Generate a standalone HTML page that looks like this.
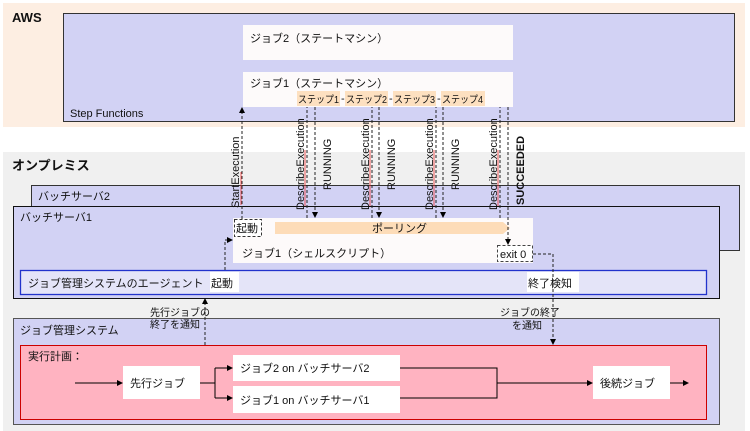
<!DOCTYPE html>
<html><head><meta charset="utf-8"><style>
body{margin:0;background:#fff}
svg{display:block}
text{font-family:"Liberation Sans","Noto Sans CJK JP",sans-serif;font-size:11px;fill:#111}
</style></head><body>
<svg width="750" height="431" viewBox="0 0 750 431" xmlns="http://www.w3.org/2000/svg">
<defs>
<marker id="a" markerWidth="6" markerHeight="6" refX="5" refY="3" orient="auto" markerUnits="userSpaceOnUse"><path d="M0,0 L6,3 L0,6 z" fill="#000"/></marker>
</defs>
<!-- AWS -->
<rect x="3" y="3" width="742" height="124" fill="#fdeee2"/>
<text x="12" y="22" style="font-weight:bold;font-size:13px">AWS</text>
<rect x="63.5" y="13.5" width="671" height="108" fill="#d2d2f4" stroke="#333"/>
<text x="70" y="117">Step Functions</text>
<rect x="243" y="25" width="270" height="35" fill="#fdfafa"/>
<text x="250" y="42">ジョブ2（ステートマシン）</text>
<rect x="243" y="72" width="270" height="35" fill="#fdfafa"/>
<text x="250" y="87">ジョブ1（ステートマシン）</text>
<g style="font-size:10px">
<rect x="297" y="91" width="43" height="15" fill="#fde0c0"/><text x="298" y="103" textLength="41" lengthAdjust="spacingAndGlyphs" style="font-size:10px">ステップ1</text>
<rect x="345" y="91" width="43" height="15" fill="#fde0c0"/><text x="346" y="103" textLength="41" lengthAdjust="spacingAndGlyphs" style="font-size:10px">ステップ2</text>
<rect x="393" y="91" width="43" height="15" fill="#fde0c0"/><text x="394" y="103" textLength="41" lengthAdjust="spacingAndGlyphs" style="font-size:10px">ステップ3</text>
<rect x="441" y="91" width="44" height="15" fill="#fde0c0"/><text x="442" y="103" textLength="41" lengthAdjust="spacingAndGlyphs" style="font-size:10px">ステップ4</text>
</g>
<text x="341" y="102">-</text><text x="389" y="102">-</text><text x="437" y="102">-</text>
<!-- on-prem -->
<rect x="3" y="152" width="742" height="279" fill="#f0f0f0"/>
<text x="12" y="170" style="font-weight:bold;font-size:13px">オンプレミス</text>
<rect x="31.5" y="185.5" width="708" height="65" fill="#d2d2f4" stroke="#333"/>
<text x="38" y="200">バッチサーバ2</text>
<rect x="13.5" y="206.5" width="706" height="92" fill="#d2d2f4" stroke="#111"/>
<text x="20" y="221">バッチサーバ1</text>
<rect x="233" y="218" width="300" height="45" fill="#fdfafa"/>
<text x="242" y="257">ジョブ1（シェルスクリプト）</text>
<rect x="234.5" y="219.5" width="27" height="17" fill="#fff" stroke="#333" stroke-dasharray="3,2"/>
<text x="236" y="232">起動</text>
<path d="M275,222 H503 L510,228 L503,234 H275 z" fill="#fddcb8"/>
<text x="372" y="232">ポーリング</text>
<rect x="497.5" y="245.5" width="35" height="16" fill="#fff" stroke="#444" stroke-dasharray="3,2"/>
<text x="500" y="258">exit 0</text>
<rect x="20.5" y="270.5" width="686" height="24" fill="#e4e4f8" stroke="#2233cc" stroke-width="1.3"/>
<text x="28" y="287">ジョブ管理システムのエージェント</text>
<rect x="210" y="272" width="29" height="20" fill="#fff"/><text x="211" y="287">起動</text>
<rect x="527" y="272" width="52" height="20" fill="#fff"/><text x="528" y="287">終了検知</text>
<rect x="13.5" y="318.5" width="706" height="106" fill="#d2d2f4" stroke="#555"/>
<text x="20" y="334">ジョブ管理システム</text>
<rect x="20.5" y="345.5" width="686" height="74" fill="#ffb3c1" stroke="#cc0000"/>
<text x="28" y="360">実行計画：</text>
<rect x="123" y="366" width="77" height="33" fill="#fff"/><text x="130" y="387">先行ジョブ</text>
<rect x="233" y="355" width="167" height="26" fill="#fff"/><text x="240" y="372">ジョブ2 on バッチサーバ2</text>
<rect x="233" y="386" width="167" height="27" fill="#fff"/><text x="240" y="404">ジョブ1 on バッチサーバ1</text>
<rect x="593" y="366" width="77" height="33" fill="#fff"/><text x="600" y="387">後続ジョブ</text>
<g stroke="#000" fill="none">
<path d="M75,383 H122" marker-end="url(#a)"/>
<path d="M200,383 H215 M215,368 V398"/>
<path d="M215,368 H232" marker-end="url(#a)"/>
<path d="M215,398 H232" marker-end="url(#a)"/>
<path d="M400,368 H497 V398 H400 M497,383 H592" marker-end="url(#a)"/>
<path d="M670,383 H688" marker-end="url(#a)"/>
</g>
<!-- dashed connectors -->
<g stroke="#222" fill="none" stroke-dasharray="3,2">
<path d="M242,219 V108" marker-end="url(#a)"/>
<path d="M307,218 V107"/><path d="M315,107 V217" marker-end="url(#a)"/>
<path d="M372,218 V107"/><path d="M379,107 V217" marker-end="url(#a)"/>
<path d="M436,218 V107"/><path d="M443,107 V217" marker-end="url(#a)"/>
<path d="M500,218 V107"/><path d="M508,107 V244" marker-end="url(#a)"/>
<path d="M533,254 H553 V344" marker-end="url(#a)"/>
<path d="M205,345 V299" marker-end="url(#a)"/>
<path d="M225,270 V240 H232" marker-end="url(#a)"/>
</g>
<g stroke="#e33" stroke-width="0.8">
<path d="M241,172 V205"/><path d="M305,150 V206"/><path d="M370,150 V206"/><path d="M434,150 V206"/><path d="M498,150 V206"/>
</g>
<g>
<text transform="translate(239,208) rotate(-90)">StartExecution</text>
<text transform="translate(304,210) rotate(-90)">DescribeExecution</text>
<text transform="translate(369,210) rotate(-90)">DescribeExecution</text>
<text transform="translate(433,210) rotate(-90)">DescribeExecution</text>
<text transform="translate(497,210) rotate(-90)">DescribeExecution</text>
<text transform="translate(331,190) rotate(-90)">RUNNING</text>
<text transform="translate(395,190) rotate(-90)">RUNNING</text>
<text transform="translate(459,190) rotate(-90)">RUNNING</text>
<text transform="translate(524,205) rotate(-90)" style="font-weight:bold">SUCCEEDED</text>
</g>
<text x="150" y="316" style="font-size:10px">先行ジョブの</text>
<text x="150" y="328" style="font-size:10px">終了を通知</text>
<text x="500" y="316" style="font-size:10px">ジョブの終了</text>
<text x="512" y="329" style="font-size:10px">を通知</text>
</svg>
</body></html>
